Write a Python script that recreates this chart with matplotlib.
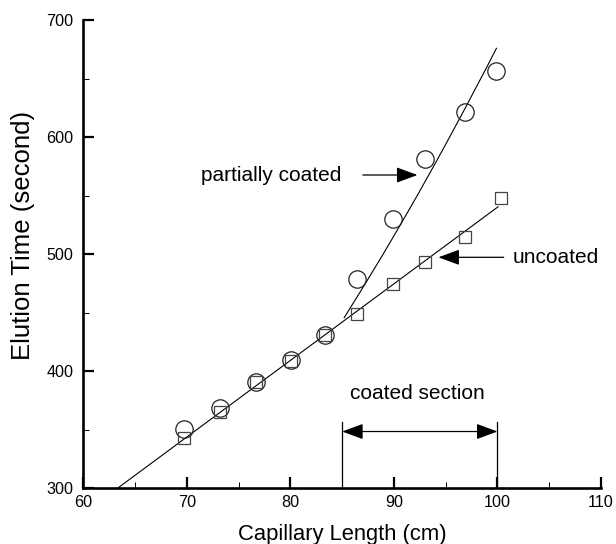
import matplotlib
matplotlib.use('Agg')
import matplotlib.pyplot as plt
from matplotlib.ticker import MultipleLocator

plt.rcParams['font.family'] = ['Liberation Sans', 'DejaVu Sans']

# measured points
length_cm = [69.7, 73.2, 76.7, 80.1, 83.3, 86.4, 89.9, 93.0, 96.9, 99.9]
partial_s = [351, 368.6, 390.8, 409.4, 431.0, 478.9, 529.7, 580.9, 621.4, 656.8]
uncoated_len = [69.7, 73.2, 76.7, 80.1, 83.3, 86.4, 89.9, 93.0, 96.9, 100.3]
uncoated_s = [342.9, 365.0, 390.8, 408.8, 431.0, 449.3, 474.4, 493.1, 514.9, 548.3]

# fitted lines
fit_uncoated_x = [63.3, 100.05]
fit_uncoated_y = [300, 540.4]
fit_partial_x = [85.2, 87.0, 88.9, 90.7, 92.1, 93.7, 95.0, 96.8, 99.0, 99.9]
fit_partial_y = [445.8, 471.4, 499.1, 526.2, 547.7, 572.9, 593.8, 623.3, 660.3, 675.8]

fig = plt.figure(figsize=(6.16, 5.44), dpi=100)
ax = fig.add_axes([83.3 / 616, 1 - 488.3 / 544, (601 - 83.3) / 616, (488.3 - 20) / 544])

ax.plot(fit_uncoated_x, fit_uncoated_y, color='black', lw=0.8, zorder=2)
ax.plot(fit_partial_x, fit_partial_y, color='black', lw=0.8, zorder=2)
ax.plot(length_cm, partial_s, 'o', ms=12.5, mfc='none', mec='#222222', mew=0.9,
        zorder=3, clip_on=False)
ax.plot(uncoated_len, uncoated_s, 's', ms=9.0, mfc='none', mec='#444444', mew=0.9,
        zorder=3, clip_on=False)

ax.set_xlim(60, 110)
ax.set_ylim(300, 700)
ax.xaxis.set_major_locator(MultipleLocator(10))
ax.xaxis.set_minor_locator(MultipleLocator(5))
ax.yaxis.set_major_locator(MultipleLocator(100))
ax.yaxis.set_minor_locator(MultipleLocator(50))
ax.spines[['top', 'right']].set_visible(False)
ax.spines[['left', 'bottom']].set_linewidth(1.9)
ax.tick_params(which='major', direction='in', length=8, width=1.6, labelsize=11.6)
ax.tick_params(which='minor', direction='in', length=4.5, width=0.7)
ax.tick_params(axis='x', which='major', pad=5)
ax.tick_params(axis='y', which='major', pad=7)

ax.set_xlabel('Capillary Length (cm)', fontsize=15.8, labelpad=10)
ax.set_ylabel('Elution Time (second)', fontsize=18.5)
ax.yaxis.set_label_coords(-0.093, 0.54)

arrow = dict(arrowstyle='-|>,head_length=0.65,head_width=0.24', color='black',
             lw=0.9, shrinkA=0, shrinkB=0, mutation_scale=20)

ax.text(84.9, 567.6, 'partially coated', fontsize=15, ha='right', va='center')
ax.annotate('', xy=(92.27, 567.6), xytext=(87.0, 567.6), arrowprops=arrow)

ax.text(101.5, 497.3, 'uncoated', fontsize=15, ha='left', va='center')
ax.annotate('', xy=(94.3, 497.3), xytext=(100.6, 497.3), arrowprops=arrow)

ax.text(92.3, 381.3, 'coated section', fontsize=15, ha='center', va='center')
ax.annotate('', xy=(85.0, 348.5), xytext=(100.0, 348.5),
            arrowprops=dict(arrow, arrowstyle='<|-|>,head_length=0.65,head_width=0.24'))
ax.plot([85, 85], [300, 357], color='black', lw=0.9)
ax.plot([100, 100], [300, 357], color='black', lw=0.9)

fig.savefig('out.png', dpi=100)
